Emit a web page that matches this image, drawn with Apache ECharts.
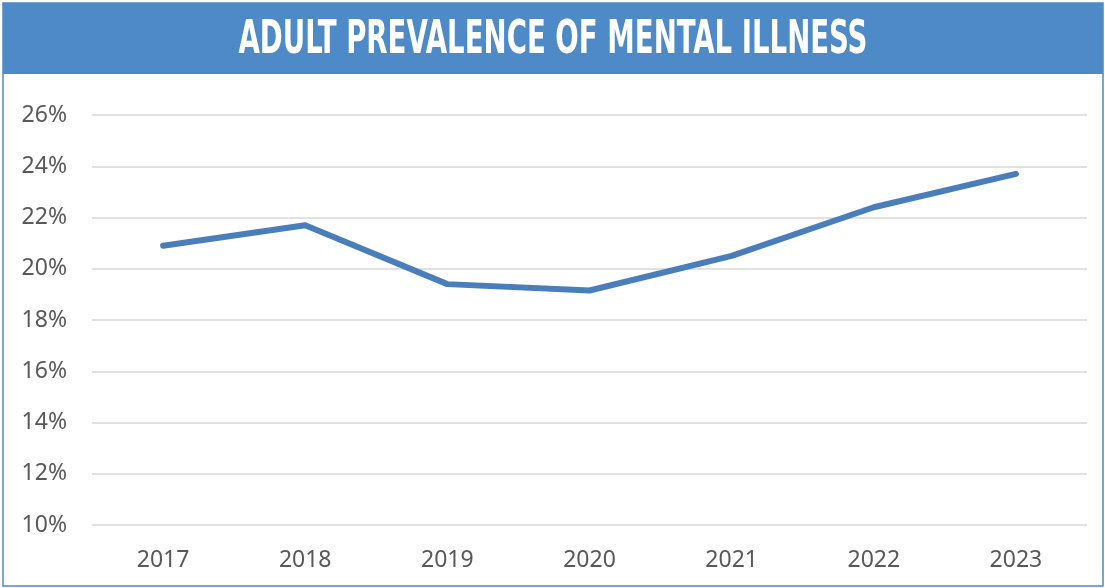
<!DOCTYPE html>
<html>
<head>
<meta charset="utf-8">
<script src="https://cdn.jsdelivr.net/npm/echarts@6/dist/echarts.min.js"></script>
<style>
  html, body { margin: 0; padding: 0; background: #fff; }
  #chart { width: 1105px; height: 588px; }
</style>
</head>
<body>
<div id="chart"></div>
<script>
// data
var years = ['2017', '2018', '2019', '2020', '2021', '2022', '2023']
var prevalence = [20.9, 21.7, 19.4, 19.15, 20.5, 22.4, 23.7]
var titleText = 'ADULT PREVALENCE OF MENTAL ILLNESS'

var titleFont = 'bold 47px "DejaVu Sans Condensed", "Roboto", sans-serif'
// squeeze title to the width it has in the picture
var ctx = document.createElement('canvas').getContext('2d')
ctx.font = titleFont
var titleW = ctx.measureText(titleText).width
var squeeze = 629 / titleW

var chart = echarts.init(document.getElementById('chart'))
chart.setOption({
  animation: false,
  backgroundColor: '#fff',
  graphic: [
    {
      type: 'rect',
      shape: { x: 3, y: 3, width: 1100, height: 583 },
      style: { fill: 'none', stroke: '#4E8AC8', lineWidth: 1.5 },
      z: 10
    },
    {
      type: 'rect',
      shape: { x: 3, y: 3, width: 1100, height: 71 },
      style: { fill: '#4E8AC8' },
      z: 10
    },
    {
      type: 'text',
      x: 553,
      y: 41,
      scaleX: squeeze,
      style: {
        text: titleText,
        font: titleFont,
        fill: '#fff',
        align: 'center',
        verticalAlign: 'middle'
      },
      z: 11
    }
  ],
  grid: {
    left: 92,
    right: 18,
    top: 115,
    bottom: 63
  },
  xAxis: {
    type: 'category',
    data: years,
    boundaryGap: true,
    axisLine: { show: false },
    axisTick: { show: false },
    axisLabel: {
      color: '#595959',
      fontSize: 23,
      fontFamily: 'Noto Sans, sans-serif',
      margin: 24
    }
  },
  yAxis: {
    type: 'value',
    min: 10,
    max: 26,
    interval: 2,
    axisLine: { show: false },
    axisTick: { show: false },
    axisLabel: {
      formatter: '{value}%',
      color: '#595959',
      fontSize: 23,
      fontFamily: 'Noto Sans, sans-serif',
      margin: 25
    },
    splitLine: { lineStyle: { color: '#D9D9D9', width: 1.5 } }
  },
  series: [{
    type: 'line',
    data: prevalence,
    symbol: 'none',
    lineStyle: { color: '#4A7EBB', width: 6, cap: 'round', join: 'round' },
    itemStyle: { color: '#4A7EBB' }
  }]
})
</script>
</body>
</html>
